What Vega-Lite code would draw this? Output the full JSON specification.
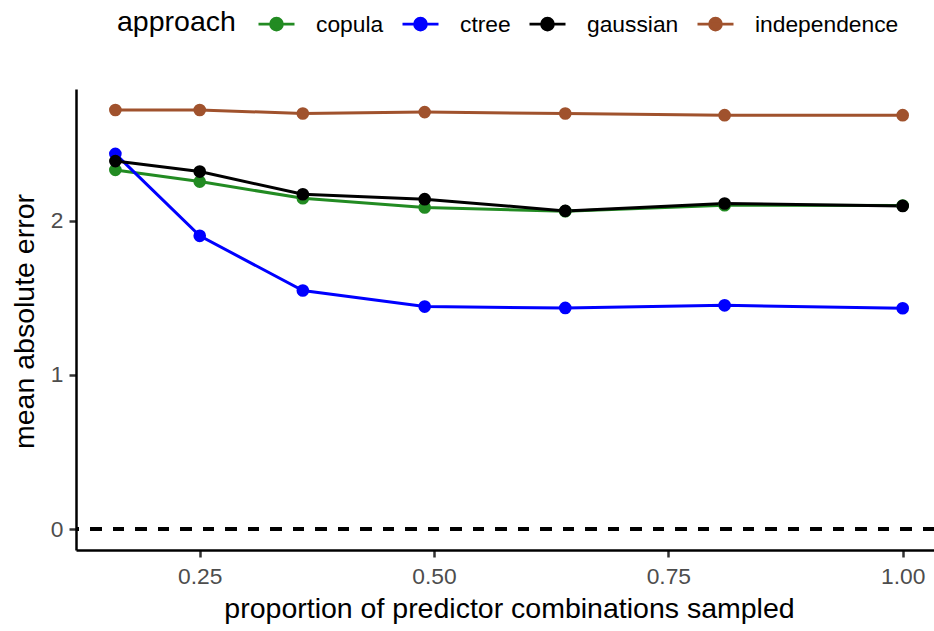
{
  "$schema": "https://vega.github.io/schema/vega-lite/v6.json",
  "autosize": {"type": "none"},
  "width": 858,
  "height": 461,
  "padding": {"left": 76, "top": 89, "right": 0, "bottom": 81},
  "background": "white",
  "config": {
    "font": "Liberation Sans",
    "view": {"stroke": null},
    "axis": {
      "grid": false,
      "domainColor": "black",
      "domainWidth": 2.5,
      "tickColor": "#333333",
      "tickWidth": 2.5,
      "tickSize": 7,
      "labelColor": "#4D4D4D",
      "labelFontSize": 22.8,
      "labelFont": "Liberation Sans",
      "titleFont": "Liberation Sans",
      "titleFontSize": 28.5,
      "titleFontWeight": "normal",
      "titleColor": "black"
    },
    "legend": {
      "labelFont": "Liberation Sans",
      "titleFont": "Liberation Sans"
    }
  },
  "data": {
    "values": [
      {"approach": "copula", "p": 0.16, "mae": 2.331},
      {"approach": "copula", "p": 0.25, "mae": 2.255},
      {"approach": "copula", "p": 0.36, "mae": 2.147},
      {"approach": "copula", "p": 0.49, "mae": 2.087},
      {"approach": "copula", "p": 0.64, "mae": 2.063},
      {"approach": "copula", "p": 0.81, "mae": 2.102},
      {"approach": "copula", "p": 1.0, "mae": 2.1},
      {"approach": "ctree", "p": 0.16, "mae": 2.435},
      {"approach": "ctree", "p": 0.25, "mae": 1.903},
      {"approach": "ctree", "p": 0.36, "mae": 1.548},
      {"approach": "ctree", "p": 0.49, "mae": 1.444},
      {"approach": "ctree", "p": 0.64, "mae": 1.435},
      {"approach": "ctree", "p": 0.81, "mae": 1.452},
      {"approach": "ctree", "p": 1.0, "mae": 1.433},
      {"approach": "gaussian", "p": 0.16, "mae": 2.388},
      {"approach": "gaussian", "p": 0.25, "mae": 2.32},
      {"approach": "gaussian", "p": 0.36, "mae": 2.173},
      {"approach": "gaussian", "p": 0.49, "mae": 2.141},
      {"approach": "gaussian", "p": 0.64, "mae": 2.065},
      {"approach": "gaussian", "p": 0.81, "mae": 2.113},
      {"approach": "gaussian", "p": 1.0, "mae": 2.097},
      {"approach": "independence", "p": 0.16, "mae": 2.72},
      {"approach": "independence", "p": 0.25, "mae": 2.72},
      {"approach": "independence", "p": 0.36, "mae": 2.697},
      {"approach": "independence", "p": 0.49, "mae": 2.706},
      {"approach": "independence", "p": 0.64, "mae": 2.697},
      {"approach": "independence", "p": 0.81, "mae": 2.686},
      {"approach": "independence", "p": 1.0, "mae": 2.686}
    ]
  },
  "encoding": {
    "x": {
      "field": "p",
      "type": "quantitative",
      "scale": {"domain": [0.118, 1.0334], "nice": false, "zero": false},
      "axis": {
        "title": "proportion of predictor combinations sampled",
        "values": [0.25, 0.5, 0.75, 1.0],
        "format": ".2f",
        "labelPadding": 8,
        "titleX": 433,
        "titleY": 67,
        "titleAnchor": "middle",
        "titleAlign": "center",
        "titleBaseline": "alphabetic"
      }
    },
    "y": {
      "field": "mae",
      "type": "quantitative",
      "scale": {"domain": [-0.136, 2.856], "nice": false, "zero": false},
      "axis": {
        "title": "mean absolute error",
        "values": [0, 1, 2],
        "format": "d",
        "labelPadding": 6,
        "titleX": -43,
        "titleY": 232,
        "titleAngle": -90,
        "titleAlign": "center",
        "titleBaseline": "alphabetic"
      }
    },
    "color": {
      "field": "approach",
      "type": "nominal",
      "scale": {
        "domain": ["copula", "ctree", "gaussian", "independence"],
        "range": ["#228B22", "#0000FF", "#000000", "#A0522D"]
      },
      "legend": {
        "orient": "none",
        "direction": "horizontal",
        "legendX": 41,
        "legendY": -84.5,
        "title": "approach",
        "titleOrient": "left",
        "titleAnchor": "middle",
        "titleBaseline": "alphabetic",
        "titleFontSize": 28.5,
        "titleFontWeight": "normal",
        "titleColor": "black",
        "titlePadding": 21,
        "labelFontSize": 22.8,
        "labelColor": "black",
        "labelBaseline": "alphabetic",
        "labelOffset": 20,
        "columnPadding": 12,
        "symbolType": "M-1,0L1,0M0.33,0A0.33,0.33,0,1,1,-0.33,0A0.33,0.33,0,1,1,0.33,0Z",
        "symbolSize": 1296,
        "symbolStrokeWidth": 2.8,
        "encode": {
          "symbols": {
            "update": {
              "fill": {"scale": "color", "field": "value"},
              "stroke": {"scale": "color", "field": "value"},
              "strokeWidth": {"value": 2.8},
              "opacity": {"value": 1}
            }
          },
          "labels": {
            "update": {
              "dy": {"value": 7.5}
            }
          },
          "title": {
            "update": {
              "dy": {"value": 10}
            }
          }
        }
      }
    }
  },
  "layer": [
    {
      "mark": {"type": "rule", "color": "black", "strokeWidth": 2.6, "strokeDash": [11, 11.5]},
      "encoding": {
        "y": {"datum": 0},
        "x": null,
        "color": null
      }
    },
    {
      "mark": {"type": "line", "strokeWidth": 3}
    },
    {
      "mark": {"type": "circle", "size": 160, "opacity": 1}
    }
  ]
}
